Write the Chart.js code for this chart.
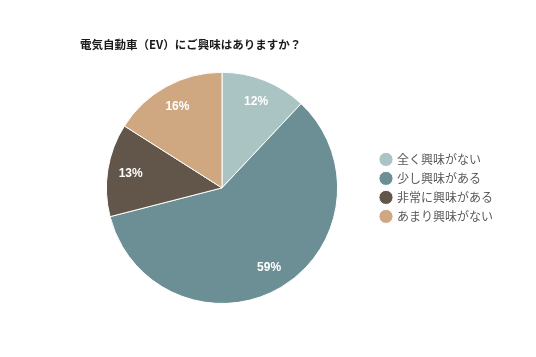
<!DOCTYPE html>
<html><head><meta charset="utf-8">
<script src="https://cdn.jsdelivr.net/npm/chart.js@4"></script>
<style>html,body{margin:0;padding:0;background:#fff}#wrap{width:536px;height:357px}</style>
</head><body><div id="wrap"><canvas id="c" width="536" height="357"></canvas></div>
<script>
const titleText = '電気自動車（EV）にご興味はありますか？';
const categories = ['全く興味がない', '少し興味がある', '非常に興味がある', 'あまり興味がない'];
const values = [12, 59, 13, 16];
const colors = ['#aac3c3', '#6b8f94', '#62564b', '#cfa881'];

const labelPlugin = {
  id: 'pctLabels',
  afterDatasetsDraw(chart) {
    const ctx = chart.ctx;
    const meta = chart.getDatasetMeta(0);
    ctx.save();
    ctx.fillStyle = '#ffffff';
    ctx.font = 'bold 12px "Liberation Sans", Arial, sans-serif';
    ctx.textAlign = 'center';
    ctx.textBaseline = 'middle';
    meta.data.forEach((arc, i) => {
      const p = arc.getProps(['x','y','startAngle','endAngle','outerRadius'], true);
      const a = (p.startAngle + p.endAngle) / 2;
      const r = p.outerRadius * 0.8;
      ctx.fillText(values[i] + '%', p.x + Math.cos(a) * r, p.y + Math.sin(a) * r);
    });
    ctx.restore();
  }
};

// leave a small gap between the pie area and the legend
const gapPlugin = {
  id: 'legendGap',
  afterLayout(chart) {
    const a = chart.chartArea;
    a.right -= 10;
    a.width = a.right - a.left;
  }
};

new Chart(document.getElementById('c'), {
  type: 'pie',
  data: {
    labels: categories,
    datasets: [{ data: values, backgroundColor: colors, borderColor: '#ffffff', borderWidth: 1 }]
  },
  plugins: [labelPlugin, gapPlugin],
  options: {
    responsive: false,
    animation: false,
    layout: { padding: { left: 80, right: 33, top: 0, bottom: 53 } },
    plugins: {
      tooltip: { enabled: false },
      title: {
        display: true, text: titleText, align: 'start', color: '#1a1a1a',
        font: { family: '"Noto Sans CJK JP", sans-serif', size: 11.5, weight: 'bold' },
        padding: { top: 38, bottom: 20 }
      },
      legend: {
        position: 'right', align: 'center', fullSize: false,
        labels: {
          usePointStyle: true, pointStyle: 'circle', boxWidth: 10, boxHeight: 10,
          padding: 7, color: '#595959',
          font: { family: '"Noto Sans CJK JP", sans-serif', size: 12 }
        }
      }
    }
  }
});
</script></body></html>
